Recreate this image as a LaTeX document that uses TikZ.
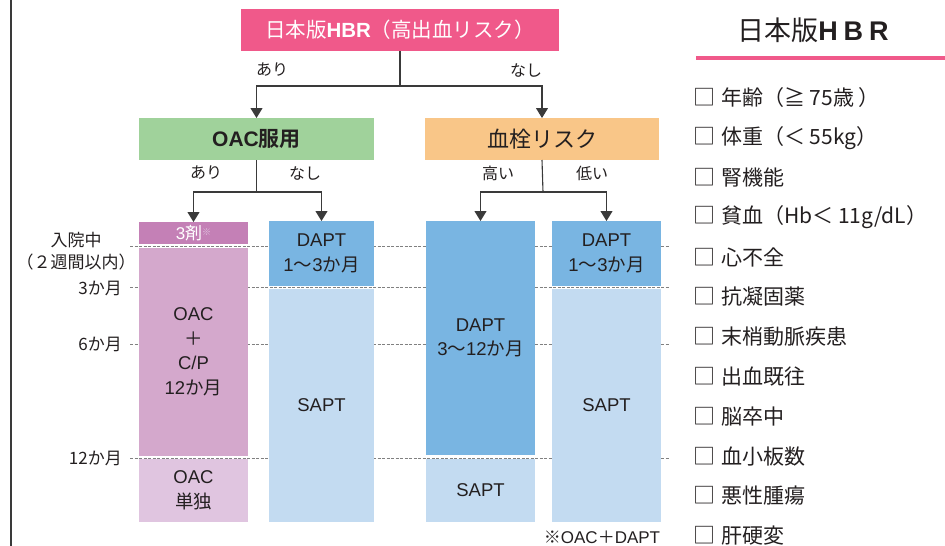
\documentclass[tikz,border=0pt]{standalone}
\usepackage{fontspec}
\setmainfont{Liberation Sans}
\newfontfamily\jp{Noto Sans CJK JP}[BoldFont={Noto Sans CJK JP Bold}]
\usetikzlibrary{arrows.meta}
\definecolor{hbrpink}{HTML}{F0598A}
\definecolor{oacgreen}{HTML}{A0D29B}
\definecolor{clotorange}{HTML}{F9C688}
\definecolor{purpleA}{HTML}{C480B6}
\definecolor{purpleB}{HTML}{D4A8CC}
\definecolor{purpleC}{HTML}{E0C5E0}
\definecolor{blueA}{HTML}{79B5E2}
\definecolor{blueB}{HTML}{C3DBF1}
\definecolor{txt}{HTML}{231F20}
\definecolor{linec}{HTML}{3A3A3A}
\definecolor{guidec}{HTML}{808080}
\newcommand{\fsz}[1]{\fontsize{#1}{#1}\selectfont}
\newcommand{\chk}{{\fontsize{22}{22}\selectfont □}\hspace{6pt}}
\begin{document}
\begin{tikzpicture}[x=1pt,y=-1pt,
  box/.style={draw=none, inner sep=0pt, outer sep=0pt, align=center, text=txt, font=\fontsize{18.5}{24.5}\selectfont},
  conn/.style={draw=linec, line width=1.1pt},
  arr/.style={conn, -{Triangle[width=12pt,length=10pt]}},
  guide/.style={draw=guidec, line width=0.8pt, dash pattern=on 3pt off 1.5pt},
  lbl/.style={inner sep=0pt, text=txt, font=\jp\fontsize{16}{18}\selectfont},
  side/.style={inner sep=0pt, text=txt, font=\jp\fontsize{17}{22}\selectfont, align=center},
  item/.style={inner sep=0pt, anchor=west, text=txt, font=\jp\fontsize{21}{22}\selectfont}
]
\useasboundingbox (0,0) rectangle (945,546);

% left border
\draw[draw=linec, line width=2.2pt] (11,0) coordinate (bt) -- (11,546) coordinate (bb);

% guide lines
\draw[guide] (130,246) coordinate (g0a) -- (670,246) coordinate (g0b);
\draw[guide] (130,287) coordinate (g1a) -- (670,287) coordinate (g1b);
\draw[guide] (130,344) coordinate (g2a) -- (670,344) coordinate (g2b);
\draw[guide] (130,458) coordinate (g3a) -- (670,458) coordinate (g3b);

% top boxes
\node[box, fill=hbrpink, text=white, minimum width=318pt, minimum height=42pt, font=\fsz{20.5}] (title) at (400,30)
  {{\jp 日本版}\textbf{HBR}{\jp （高出血リスク）}};
\node[box, fill=oacgreen, minimum width=235pt, minimum height=42pt, font=\fsz{21}] (oac) at (256.5,139)
  {\textbf{OAC}{\jp\bfseries 服用}};
\node[box, fill=clotorange, minimum width=234pt, minimum height=42pt, font=\jp\fsz{22}] (clot) at (542,139)
  {血栓リスク};

% columns
\node[box, fill=purpleA, text=white, minimum width=109pt, minimum height=22pt, font=\fsz{17}] (c1a) at (193.5,233)
  {3{\jp 剤}\raisebox{4pt}{\jp\fsz{9}\color{purpleC}※}};
\node[box, fill=purpleB, minimum width=109pt, minimum height=208pt] (c1b) at (193.5,352)
  {OAC\\{\jp ＋}\\C/P\\12{\jp か月}};
\node[box, fill=purpleC, minimum width=109pt, minimum height=63pt] (c1c) at (193.5,490.5)
  {OAC\\{\jp 単独}};

\node[box, fill=blueA, minimum width=105pt, minimum height=65pt] (c2a) at (321.5,253.5)
  {DAPT\\1{\jp ～}3{\jp か月}};
\node[box, fill=blueB, minimum width=105pt, minimum height=233pt] (c2b) at (321.5,405.5)
  {SAPT};

\node[box, fill=blueA, minimum width=109pt, minimum height=234pt] (c3a) at (480.5,338)
  {DAPT\\3{\jp ～}12{\jp か月}};
\node[box, fill=blueB, minimum width=109pt, minimum height=63pt] (c3b) at (480.5,490.5)
  {SAPT};

\node[box, fill=blueA, minimum width=109pt, minimum height=65pt] (c4a) at (606.5,253.5)
  {DAPT\\1{\jp ～}3{\jp か月}};
\node[box, fill=blueB, minimum width=109pt, minimum height=233pt] (c4b) at (606.5,405.5)
  {SAPT};

% connectors
\draw[conn] (title.south) -- (400,86) coordinate (j1);
\draw[arr] (j1) -| (oac.north);
\draw[arr] (j1) -| (clot.north);
\draw[conn] (oac.south) -- (256.5,192) coordinate (j2);
\draw[arr] (j2) -| (c1a.north);
\draw[arr] (j2) -| (c2a.north);
\draw[conn] (clot.south) -- (543,192) coordinate (j3);
\draw[arr] (j3) -| (c3a.north);
\draw[arr] (j3) -| (c4a.north);

% branch labels
\node[lbl] (l1) at (272,70) {あり};
\node[lbl] (l2) at (526,70) {なし};
\node[lbl] (l3) at (206,173) {あり};
\node[lbl] (l4) at (305,173) {なし};
\node[lbl] (l5) at (498,173) {高い};
\node[lbl] (l6) at (592,173) {低い};

% time labels
\node[side] (s0) at (76,251) {入院中\\（２週間以内）};
\node[side, anchor=east] (s1) at (122,288) {3か月};
\node[side, anchor=east] (s2) at (122,344) {6か月};
\node[side, anchor=east] (s3) at (122,458) {12か月};

\node[inner sep=0pt, text=txt, font=\fsz{17}] (note) at (602,537) {{\jp ※}OAC{\jp ＋}DAPT};

% right panel
\node[inner sep=0pt, text=txt, font=\fsz{27}] (rt) at (813,30)
  {{\jp 日本版}\textbf{H\kern6pt B\kern6pt R}};
\draw[draw=hbrpink, line width=4pt] (696,58) coordinate (u0) -- (945,58) coordinate (u1);

\node[item] (i1) at (693,98.0) {\chk 年齢（≧ 75歳 ）};
\node[item] (i2) at (693,137.8) {\chk 体重（＜ 55kg）};
\node[item] (i3) at (693,177.6) {\chk 腎機能};
\node[item] (i4) at (693,217.4) {\chk 貧血（Hb＜ 11g/dL）};
\node[item] (i5) at (693,257.2) {\chk 心不全};
\node[item] (i6) at (693,297.0) {\chk 抗凝固薬};
\node[item] (i7) at (693,336.8) {\chk 末梢動脈疾患};
\node[item] (i8) at (693,376.6) {\chk 出血既往};
\node[item] (i9) at (693,416.4) {\chk 脳卒中};
\node[item] (i10) at (693,456.2) {\chk 血小板数};
\node[item] (i11) at (693,496.0) {\chk 悪性腫瘍};
\node[item] (i12) at (693,535.8) {\chk 肝硬変};
\end{tikzpicture}
\end{document}
